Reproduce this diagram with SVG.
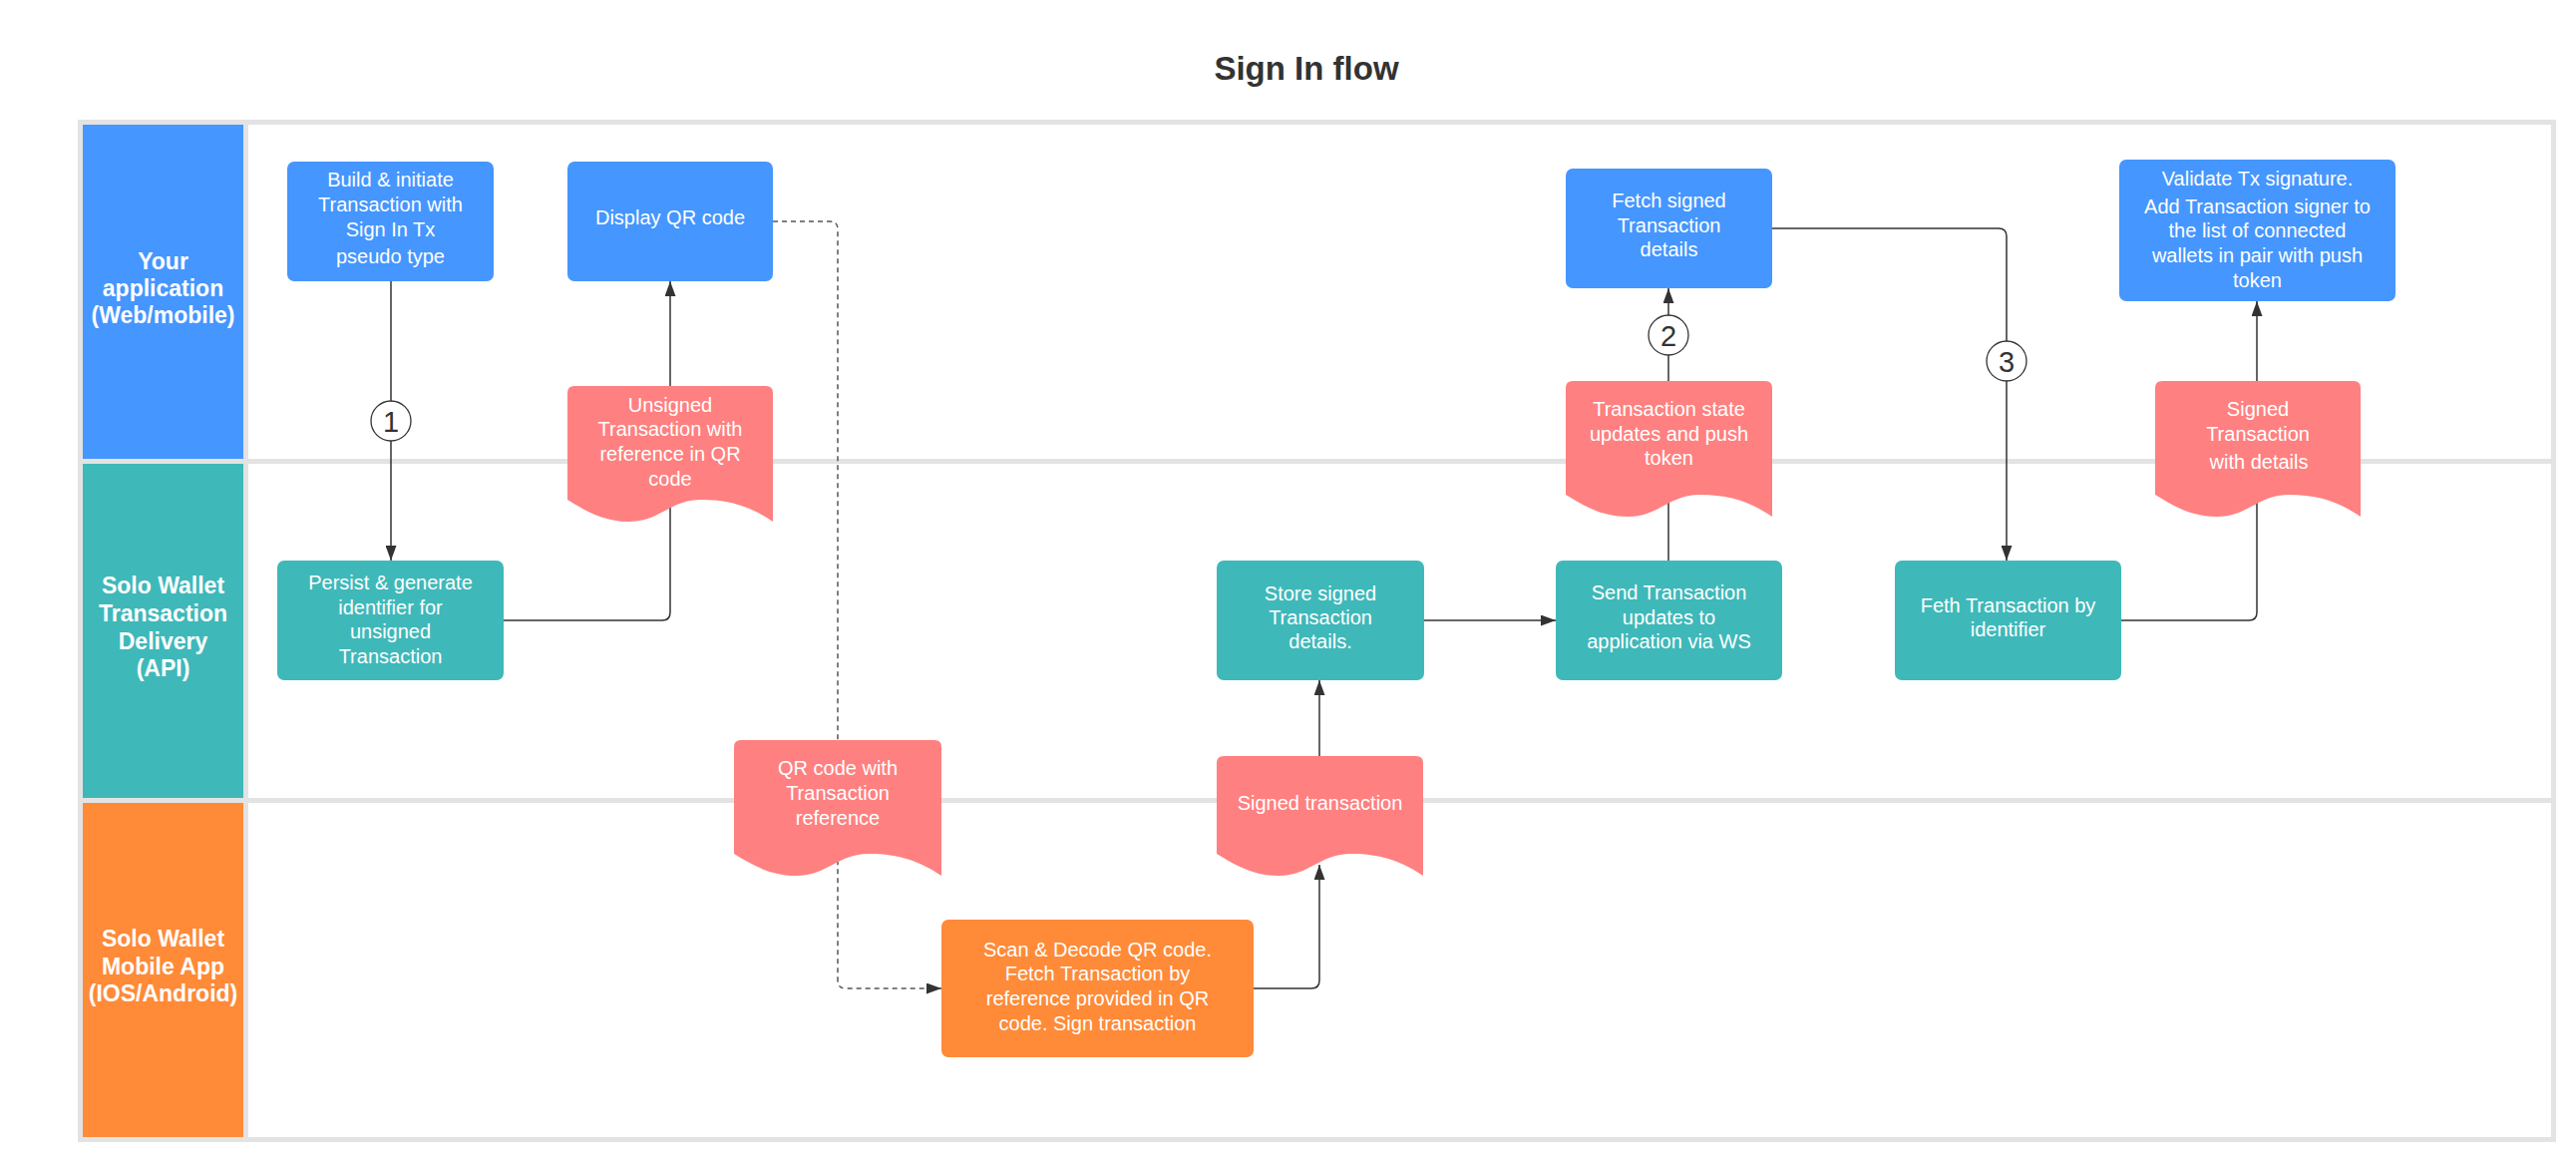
<svg xmlns="http://www.w3.org/2000/svg" width="2583" height="1159" viewBox="0 0 2583 1159">
<style>
.title{font-family:"Liberation Sans",Arial,sans-serif;font-weight:bold;font-size:33px;fill:#333;text-anchor:middle}
.lane{font-family:"Liberation Sans",Arial,sans-serif;font-weight:bold;font-size:23px;fill:#fff;text-anchor:middle}
.t{font-family:"Liberation Sans",Arial,sans-serif;font-size:20px;fill:#fff;text-anchor:middle}
.num{font-family:"Liberation Sans",Arial,sans-serif;font-size:29px;fill:#333;text-anchor:middle}
.blue{fill:#4596FF}
.teal{fill:#3FB8B9}
.orange{fill:#FF8A38}
.doc{fill:#FF8080}
.conn{fill:none;stroke:#333;stroke-width:1.5}
.dash{fill:none;stroke:#555;stroke-width:1.5;stroke-dasharray:5 4}
.circ{fill:#fff;stroke:#333;stroke-width:1.3}
</style>
<defs>
<marker id="arrow" viewBox="0 0 15 11" refX="15" refY="5.5" markerWidth="15" markerHeight="11" markerUnits="userSpaceOnUse" orient="auto">
<path d="M0,0 L15,5.5 L0,11 Z" fill="#333"/>
</marker>
</defs>
<rect width="2583" height="1159" fill="#fff"/>
<text class="title" x="1310" y="80">Sign In flow</text>

<g id="lanes">
<rect x="78" y="120" width="2485" height="1025" fill="#E3E3E3"/>
<rect x="83" y="125" width="161" height="335" class="blue"/>
<rect x="83" y="465" width="161" height="335" class="teal"/>
<rect x="83" y="805" width="161" height="335" class="orange"/>
<rect x="249" y="125" width="2309" height="335" fill="#fff"/>
<rect x="249" y="465" width="2309" height="335" fill="#fff"/>
<rect x="249" y="805" width="2309" height="335" fill="#fff"/>
<text class="lane" x="163.5" y="270">Your</text>
<text class="lane" x="163.5" y="297">application</text>
<text class="lane" x="163.5" y="324">(Web/mobile)</text>
<text class="lane" x="163.5" y="595">Solo Wallet</text>
<text class="lane" x="163.5" y="623">Transaction</text>
<text class="lane" x="163.5" y="651">Delivery</text>
<text class="lane" x="163.5" y="678">(API)</text>
<text class="lane" x="163.5" y="949">Solo Wallet</text>
<text class="lane" x="163.5" y="977">Mobile App</text>
<text class="lane" x="163.5" y="1004">(IOS/Android)</text>
</g>

<g id="connectors">
<path class="conn" d="M392,282 V562" marker-end="url(#arrow)"/>
<path class="conn" d="M505,622 H664 Q672,622 672,614 V282" marker-end="url(#arrow)"/>
<path class="dash" d="M775,222 H832 Q840,222 840,230 V983 Q840,991 848,991 H944" marker-end="url(#arrow)"/>
<path class="conn" d="M1257,991 H1315 Q1323,991 1323,983 V867" marker-end="url(#arrow)"/>
<path class="conn" d="M1323,758 V682" marker-end="url(#arrow)"/>
<path class="conn" d="M1428,622 H1560" marker-end="url(#arrow)"/>
<path class="conn" d="M1673,562 V289" marker-end="url(#arrow)"/>
<path class="conn" d="M1777,229 H2004 Q2012,229 2012,237 V562" marker-end="url(#arrow)"/>
<path class="conn" d="M2127,622 H2255 Q2263,622 2263,614 V302" marker-end="url(#arrow)"/>
</g>

<g id="node-build">
<rect x="288" y="162" width="207" height="120" rx="7" class="blue"/>
<text class="t" x="391.5" y="187">Build &amp; initiate</text>
<text class="t" x="391.5" y="212">Transaction with</text>
<text class="t" x="391.5" y="237">Sign In Tx</text>
<text class="t" x="391.5" y="264">pseudo type</text>
</g>
<g id="node-display-qr">
<rect x="569" y="162" width="206" height="120" rx="7" class="blue"/>
<text class="t" x="672" y="225">Display QR code</text>
</g>
<g id="node-unsigned-doc">
<path class="doc" d="M576,387 H768 Q775,387 775,394 V523 C754.4,509 733.8,501 702.9,501 C672,501 661.7,523 630.8,523 C604,523 585.5,511 569,501 V394 Q569,387 576,387 Z"/>
<text class="t" x="672" y="413">Unsigned</text>
<text class="t" x="672" y="437">Transaction with</text>
<text class="t" x="672" y="462">reference in QR</text>
<text class="t" x="672" y="487">code</text>
</g>
<g id="node-persist">
<rect x="278" y="562" width="227" height="120" rx="7" class="teal"/>
<text class="t" x="391.5" y="591">Persist &amp; generate</text>
<text class="t" x="391.5" y="616">identifier for</text>
<text class="t" x="391.5" y="640">unsigned</text>
<text class="t" x="391.5" y="665">Transaction</text>
</g>
<g id="node-qr-doc">
<path class="doc" d="M743,742 H937 Q944,742 944,749 V878 C923.2,864 902.4,856 871.2,856 C840,856 829.6,878 798.4,878 C771.4,878 752.6,866 736,856 V749 Q736,742 743,742 Z"/>
<text class="t" x="840" y="777">QR code with</text>
<text class="t" x="840" y="802">Transaction</text>
<text class="t" x="840" y="827">reference</text>
</g>
<g id="node-scan">
<rect x="944" y="922" width="313" height="138" rx="7" class="orange"/>
<text class="t" x="1100.5" y="959">Scan &amp; Decode QR code.</text>
<text class="t" x="1100.5" y="983">Fetch Transaction by</text>
<text class="t" x="1100.5" y="1008">reference provided in QR</text>
<text class="t" x="1100.5" y="1033">code. Sign transaction</text>
</g>
<g id="node-signed-doc">
<path class="doc" d="M1227,758 H1420 Q1427,758 1427,765 V878 C1406.3,864 1385.6,856 1354.6,856 C1323.5,856 1313.2,878 1282.1,878 C1255.2,878 1236.6,866 1220,856 V765 Q1220,758 1227,758 Z"/>
<text class="t" x="1323.5" y="812">Signed transaction</text>
</g>
<g id="node-store">
<rect x="1220" y="562" width="208" height="120" rx="7" class="teal"/>
<text class="t" x="1324" y="602">Store signed</text>
<text class="t" x="1324" y="626">Transaction</text>
<text class="t" x="1324" y="650">details.</text>
</g>
<g id="node-send">
<rect x="1560" y="562" width="227" height="120" rx="7" class="teal"/>
<text class="t" x="1673.5" y="601">Send Transaction</text>
<text class="t" x="1673.5" y="626">updates to</text>
<text class="t" x="1673.5" y="650">application via WS</text>
</g>
<g id="node-state-doc">
<path class="doc" d="M1577,382 H1770 Q1777,382 1777,389 V518 C1756.3,504 1735.6,496 1704.6,496 C1673.5,496 1663.2,518 1632.1,518 C1605.2,518 1586.6,506 1570,496 V389 Q1570,382 1577,382 Z"/>
<text class="t" x="1673.5" y="417">Transaction state</text>
<text class="t" x="1673.5" y="442">updates and push</text>
<text class="t" x="1673.5" y="466">token</text>
</g>
<g id="node-fetch-signed">
<rect x="1570" y="169" width="207" height="120" rx="7" class="blue"/>
<text class="t" x="1673.5" y="208">Fetch signed</text>
<text class="t" x="1673.5" y="233">Transaction</text>
<text class="t" x="1673.5" y="257">details</text>
</g>
<g id="node-feth">
<rect x="1900" y="562" width="227" height="120" rx="7" class="teal"/>
<text class="t" x="2013.5" y="614">Feth Transaction by</text>
<text class="t" x="2013.5" y="638">identifier</text>
</g>
<g id="node-signed-tx-doc">
<path class="doc" d="M2168,382 H2360 Q2367,382 2367,389 V518 C2346.4,504 2325.8,496 2294.9,496 C2264,496 2253.7,518 2222.8,518 C2196,518 2177.5,506 2161,496 V389 Q2161,382 2168,382 Z"/>
<text class="t" x="2264" y="417">Signed</text>
<text class="t" x="2264" y="442">Transaction</text>
<text class="t" x="2265" y="470">with details</text>
</g>
<g id="node-validate">
<rect x="2125" y="160" width="277" height="142" rx="7" class="blue"/>
<text class="t" x="2263.5" y="186">Validate Tx signature.</text>
<text class="t" x="2263.5" y="214">Add Transaction signer to</text>
<text class="t" x="2263.5" y="238">the list of connected</text>
<text class="t" x="2263.5" y="263">wallets in pair with push</text>
<text class="t" x="2263.5" y="288">token</text>
</g>

<g id="connector-labels">
<circle class="circ" cx="392" cy="422" r="20"/>
<text class="num" x="392" y="432.5">1</text>
<circle class="circ" cx="1673" cy="336" r="20"/>
<text class="num" x="1673" y="346.5">2</text>
<circle class="circ" cx="2012" cy="362" r="20"/>
<text class="num" x="2012" y="372.5">3</text>
</g>
</svg>
